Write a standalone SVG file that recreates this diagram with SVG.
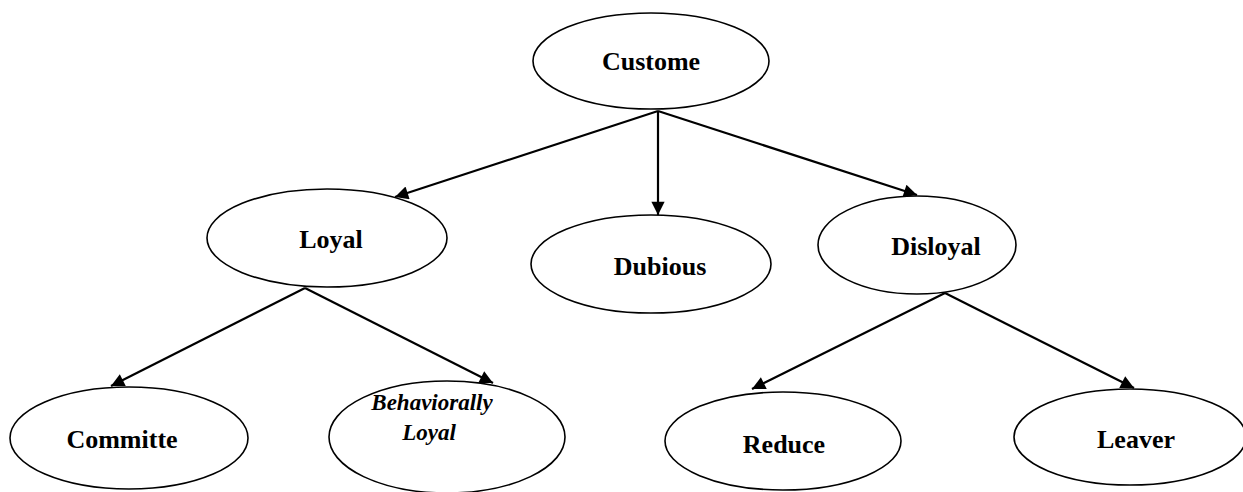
<svg xmlns="http://www.w3.org/2000/svg" width="1243" height="492" viewBox="0 0 1243 492">
<defs>
<style>
.node ellipse{fill:#fff;stroke:#000;stroke-width:1.6}
.node text{font-family:"Liberation Serif","Times New Roman",serif;font-weight:bold;font-size:26px;fill:#000;text-anchor:middle}
.node text.it{font-style:italic;font-size:23px}
.conn line{stroke:#000;stroke-width:2.2}
</style>
<marker id="arr" viewBox="0 0 10 10" refX="10" refY="5" markerWidth="7" markerHeight="6" markerUnits="strokeWidth" orient="auto">
<path d="M0,0 L10,5 L0,10 z" fill="#000"/>
</marker>
</defs>
<rect width="1243" height="492" fill="#fff"/>
<g class="conn">
<line x1="658" y1="111" x2="395" y2="197" marker-end="url(#arr)"/>
<line x1="658" y1="111" x2="658" y2="215" marker-end="url(#arr)"/>
<line x1="658" y1="111" x2="917" y2="195" marker-end="url(#arr)"/>
<line x1="305" y1="288" x2="111" y2="386" marker-end="url(#arr)"/>
<line x1="305" y1="288" x2="493" y2="383" marker-end="url(#arr)"/>
<line x1="945" y1="293" x2="752" y2="389" marker-end="url(#arr)"/>
<line x1="945" y1="293" x2="1134" y2="388" marker-end="url(#arr)"/>
</g>
<g class="node" id="customer">
<ellipse cx="651" cy="61" rx="118" ry="48"/>
<text x="651" y="70">Custome</text>
</g>
<g class="node" id="loyal">
<ellipse cx="327" cy="238" rx="120" ry="49"/>
<text x="331" y="248">Loyal</text>
</g>
<g class="node" id="dubious">
<ellipse cx="651" cy="264" rx="120" ry="49"/>
<text x="660" y="275">Dubious</text>
</g>
<g class="node" id="disloyal">
<ellipse cx="917" cy="245" rx="99" ry="49"/>
<text x="936" y="255">Disloyal</text>
</g>
<g class="node" id="committe">
<ellipse cx="129" cy="438" rx="119" ry="51"/>
<text x="122" y="448">Committe</text>
</g>
<g class="node" id="behaviorally">
<ellipse cx="447" cy="437" rx="118" ry="56"/>
<text class="it" x="432" y="410">Behaviorally</text>
<text class="it" x="429" y="440">Loyal</text>
</g>
<g class="node" id="reduce">
<ellipse cx="783" cy="441" rx="118" ry="49"/>
<text x="784" y="453">Reduce</text>
</g>
<g class="node" id="leaver">
<ellipse cx="1130" cy="437" rx="116" ry="48"/>
<text x="1136" y="448">Leaver</text>
</g>
</svg>
